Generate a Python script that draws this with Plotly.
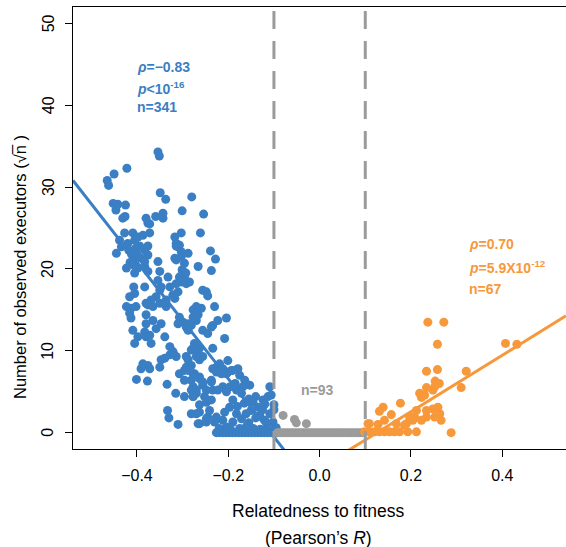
import plotly.graph_objects as go

# ---------------- data ----------------
blue_x = [-0.354,-0.351,-0.422,-0.450,-0.465,-0.462,-0.349,-0.337,-0.280,
          -0.452,-0.442,-0.425,-0.446,-0.301,-0.431,-0.426,-0.380,-0.376,
          -0.359,-0.343,-0.343,-0.372,-0.303,-0.317,-0.254,-0.261,
          -0.427,-0.409,-0.398,-0.387,-0.372,-0.438,-0.434,-0.420,-0.405,-0.394,-0.376,
          -0.418,-0.412,-0.406,-0.415,-0.408,-0.400,-0.403,-0.445,
          -0.314,-0.307,-0.303,-0.288,-0.317,-0.383,-0.376,-0.391,-0.383,-0.354,
          -0.423,-0.405,-0.398,-0.383,-0.376,-0.350,-0.332,-0.354,
          -0.300,-0.307,-0.296,-0.303,-0.292,-0.314,-0.407,-0.383,-0.347,
          -0.239,-0.228,-0.237,-0.266,-0.285,-0.256,-0.248,-0.245,
          -0.314,-0.310,-0.314,-0.303,-0.296,-0.301,-0.293,
          -0.328,-0.321,-0.310,-0.317,-0.350,-0.358,-0.350,-0.336,
          -0.416,-0.405,-0.423,-0.413,-0.402,-0.416,-0.413,
          -0.380,-0.369,-0.365,-0.376,-0.336,-0.321,
          -0.380,-0.380,-0.365,-0.347,-0.358,
          -0.409,-0.398,-0.405,-0.383,-0.380,-0.372,-0.369,-0.339,-0.288,
          -0.328,-0.314,-0.339,-0.347,-0.387,-0.376,-0.391,-0.372,-0.350,
          -0.307,-0.296,-0.401,-0.377,-0.334,-0.315,-0.296,
          -0.333,-0.330,-0.310,-0.281,-0.277,-0.281,
          -0.270,-0.259,-0.277,-0.266,-0.230,-0.223,-0.234,-0.204,
          -0.256,-0.245,-0.237,-0.208,-0.274,-0.281,-0.266,-0.263,-0.234,-0.256,
          -0.234,-0.226,-0.215,-0.201,-0.193,-0.179,-0.175,
          -0.277,-0.281,-0.263,-0.256,-0.237,
          -0.164,-0.153,-0.168,-0.182,-0.171,-0.212,-0.204,-0.223,-0.234,
          -0.270,-0.277,-0.252,-0.237,-0.263,-0.109,-0.113,-0.124,-0.106,
          -0.266,-0.245,-0.248,
          -0.146,-0.150,-0.135,-0.161,-0.131,-0.109,-0.120,-0.102,
          -0.190,-0.197,-0.208,-0.182,-0.171,-0.190,-0.212,-0.226,-0.230,-0.204,
          -0.248,-0.241,-0.263,-0.248,-0.263,-0.270,
          -0.321,-0.292,-0.288,-0.270,-0.277,-0.263,
          -0.292,-0.281,-0.274,-0.288,-0.296,-0.263,-0.256,-0.277,-0.270,-0.248,-0.237,
          -0.226,-0.219,-0.212,-0.204,-0.190,-0.201,
          -0.270,-0.277,-0.270,-0.281,-0.288,-0.307,-0.299,-0.292,-0.310,
          -0.328,-0.321,
          -0.180,-0.165,-0.155,-0.140,-0.125,-0.115,-0.100,-0.095,-0.160,-0.145,
          -0.130,-0.175,-0.195,-0.220,-0.110,-0.120,-0.140,-0.155,-0.185,-0.196,-0.100,
          -0.226,-0.219,-0.212,-0.205,-0.198,-0.191,-0.184,-0.177,-0.170,-0.163,
          -0.156,-0.149,-0.142,-0.135,-0.128,-0.121,-0.114,-0.107,-0.100,-0.094]
blue_y = [34.3,33.8,32.3,31.6,30.8,30.2,29.3,28.5,28.8,
          28.0,27.9,27.8,27.2,27.1,26.2,26.4,26.2,25.6,
          26.4,26.8,26.2,25.5,24.4,23.9,26.7,24.4,
          24.4,24.4,23.9,24.1,24.4,23.5,22.7,23.1,23.5,22.8,22.8,
          22.3,21.8,21.3,20.8,20.5,21.9,22.5,21.9,
          22.8,22.9,22.1,21.9,21.3,22.3,21.7,21.3,20.9,20.9,
          20.1,19.5,20.1,20.3,19.7,19.7,19.0,18.6,
          19.7,19.0,19.0,18.4,18.2,18.2,17.8,17.8,17.8,
          22.2,21.2,19.8,20.3,18.4,17.4,17.2,16.7,
          23.1,22.7,21.1,21.5,20.7,19.9,19.5,
          17.8,16.8,17.2,16.4,17.4,16.6,15.8,15.4,
          16.6,17.0,15.4,15.2,15.4,14.6,14.0,
          15.8,16.2,15.4,15.6,16.2,16.8,
          14.4,13.3,13.7,13.3,12.7,
          12.5,11.7,10.9,12.3,11.7,11.9,10.9,11.7,13.3,
          9.5,9.3,9.1,8.9,8.4,8.2,7.8,7.8,8.0,
          7.2,7.6,6.5,6.3,5.9,4.8,4.4,
          2.7,1.8,1.0,5.2,4.4,2.3,
          15.4,15.2,15.0,14.4,15.4,13.7,13.1,14.0,
          12.5,12.1,12.9,11.5,10.9,10.1,9.5,8.9,10.3,9.3,
          7.8,7.4,7.2,7.4,7.6,7.8,7.0,
          7.2,6.4,6.6,5.8,6.4,
          6.4,5.8,5.6,5.2,4.8,5.6,5.0,5.2,5.2,
          4.8,4.4,4.4,4.0,3.4,5.6,4.4,4.0,4.6,
          1.1,1.9,1.3,
          3.7,2.7,3.1,2.3,2.1,2.3,1.5,1.3,
          4.0,3.1,2.5,2.3,1.7,1.3,1.5,1.9,1.3,0.7,
          3.7,2.7,2.5,1.7,1.1,2.3,
          9.7,9.3,8.9,9.3,10.3,10.3,
          8.0,8.2,7.2,7.6,6.4,6.8,6.2,5.6,5.2,5.2,6.2,
          8.0,8.4,7.8,7.2,7.6,8.8,
          14.6,14.1,13.7,13.1,12.5,14.1,13.5,12.9,13.3,
          10.5,9.9,
          3.2,3.6,1.2,1.8,2.8,0.8,2.8,0.6,0.8,0.5,
          0.4,0.5,0.4,0.5,0.3,3.5,4.4,4.1,6.0,5.6,3.4,
          0,0,0,0,0,0,0,0,0,0,
          0,0,0,0,0,0,0,0,0,0]

gray_x = [-0.080,-0.055,-0.051,-0.029,
          -0.092,-0.086,-0.080,-0.074,-0.068,-0.062,-0.056,-0.050,-0.044,-0.038,
          -0.032,-0.026,-0.020,-0.014,-0.008,-0.002,0.004,0.010,0.016,0.022,
          0.028,0.034,0.040,0.046,0.052,0.058,0.064,0.070,0.076,0.082,0.088,0.094]
gray_y = [2.1,1.6,1.2,1.1] + [0]*32

orange_x = [0.237,0.272,0.258,0.407,0.432,0.234,0.258,0.321,0.310,
            0.253,0.262,0.252,0.248,0.234,0.219,0.223,0.230,0.177,
            0.139,0.131,0.157,0.142,
            0.212,0.234,0.248,0.259,0.263,0.252,0.234,0.223,0.208,0.204,0.197,0.190,0.186,0.266,
            0.109,0.128,0.168,0.106,
            0.0985,0.109,0.120,0.131,0.142,0.153,0.164,0.175,0.193,0.212,0.288]
orange_y = [13.5,13.5,10.8,10.9,10.8,7.5,7.7,7.5,5.5,
            6.3,6.0,5.6,5.2,5.5,4.8,4.3,4.6,3.6,
            3.1,2.6,2.2,1.5,
            2.7,2.7,2.9,3.1,2.3,1.9,1.9,1.5,1.9,1.5,1.9,1.1,0.9,1.5,
            1.1,1.0,1.1,1.1,
            0.1,0.1,0.1,0.1,0.1,0.1,0.1,0.1,0.1,0.1,0.0]

# fitted lines (intercept, slope)
blue_fit = (-7.65, -71.2)
orange_fit = (-4.34, 34.5)
x_range = [-0.54, 0.5395]
y_range = [-2, 52]
cut_lines = [-0.1, 0.1]

x_ticks = [-0.4, -0.2, 0.0, 0.2, 0.4]
x_ticktext = ["\u22120.4", "\u22120.2", "0.0", "0.2", "0.4"]
y_ticks = [0, 10, 20, 30, 40, 50]

BLUE = "#3A7FC4"
ORANGE = "#F7983A"
GRAY = "#9B9B9B"
FONT = "Liberation Sans, Arial, sans-serif"

fig = go.Figure()
mk = dict(size=9, line=dict(width=0))
fig.add_trace(go.Scatter(x=blue_x, y=blue_y, mode="markers",
                         marker=dict(color=BLUE, **mk), showlegend=False))
fig.add_trace(go.Scatter(x=gray_x, y=gray_y, mode="markers",
                         marker=dict(color=GRAY, **mk), showlegend=False))
fig.add_trace(go.Scatter(x=orange_x, y=orange_y, mode="markers",
                         marker=dict(color=ORANGE, **mk), showlegend=False))

# fit lines across the whole x range (clipped by axes)
for (b, m), c in [(blue_fit, BLUE), (orange_fit, ORANGE)]:
    xs = [x_range[0], x_range[1]]
    fig.add_trace(go.Scatter(x=xs, y=[b + m * v for v in xs], mode="lines",
                             line=dict(color=c, width=3), showlegend=False,
                             cliponaxis=True))

for xv in cut_lines:
    fig.add_shape(type="line", x0=xv, x1=xv, y0=y_range[0], y1=y_range[1],
                  xref="x", yref="y",
                  line=dict(color=GRAY, width=3, dash="18px,12px"))

ann_font_b = dict(family=FONT, size=14, color=BLUE)
ann_font_o = dict(family=FONT, size=14, color=ORANGE)
for txt, yv in [("<b><i>\u03c1</i>=\u22120.83</b>", 67),
                ("<b><i>p</i>&lt;10<sup>-16</sup></b>", 87.5),
                ("<b>n=341</b>", 107)]:
    fig.add_annotation(text=txt, xref="paper", yref="paper",
                       x=(135 - 73) / 493, y=1 - (yv - 7) / 442,
                       xanchor="left", yanchor="middle", showarrow=False,
                       font=ann_font_b)
for txt, yv in [("<b><i>\u03c1</i>=0.70</b>", 244),
                ("<b><i>p</i>=5.9X10<sup>-12</sup></b>", 267),
                ("<b>n=67</b>", 289)]:
    fig.add_annotation(text=txt, xref="paper", yref="paper",
                       x=(467 - 73) / 493, y=1 - (yv - 7) / 442,
                       xanchor="left", yanchor="middle", showarrow=False,
                       font=ann_font_o)
fig.add_annotation(text="<b>n=93</b>", xref="paper", yref="paper",
                   x=(317 - 73) / 493, y=1 - (390 - 7) / 442,
                   xanchor="center", yanchor="middle", showarrow=False,
                   font=dict(family=FONT, size=14, color=GRAY))

# y tick labels (rotated, R style)
for t in y_ticks:
    fig.add_annotation(text=str(t), xref="paper", yref="y",
                       x=(48 - 73) / 493, y=t,
                       xanchor="center", yanchor="middle", showarrow=False,
                       textangle=-90,
                       font=dict(family=FONT, size=16, color="black"))

# axis titles
fig.add_annotation(text="Relatedness to fitness", xref="paper", yref="paper",
                   x=(318 - 73) / 493, y=1 - (511 - 7) / 442,
                   xanchor="center", yanchor="middle", showarrow=False,
                   font=dict(family=FONT, size=17.5, color="black"))
fig.add_annotation(text="(Pearson\u2019s <i>R</i>)", xref="paper", yref="paper",
                   x=(318 - 73) / 493, y=1 - (538 - 7) / 442,
                   xanchor="center", yanchor="middle", showarrow=False,
                   font=dict(family=FONT, size=17.5, color="black"))
fig.add_annotation(text="Number of observed executors (\u221an\u0305 )",
                   xref="paper", yref="paper",
                   x=(20 - 73) / 493, y=1 - (267 - 7) / 442,
                   xanchor="center", yanchor="middle", showarrow=False,
                   textangle=-90,
                   font=dict(family=FONT, size=16.5, color="black"))

fig.update_layout(
    width=566, height=547,
    margin=dict(l=73, r=0, t=7, b=98, pad=0),
    paper_bgcolor="white", plot_bgcolor="white",
    font=dict(family=FONT, size=16, color="black"),
    xaxis=dict(range=x_range, showgrid=False, zeroline=False,
               showline=True, linecolor="black", linewidth=1.3, mirror=True,
               ticks="outside", ticklen=7, tickwidth=1.3, tickcolor="black",
               tickvals=x_ticks, ticktext=x_ticktext, ticklabelstandoff=5,
               tickfont=dict(family=FONT, size=16)),
    yaxis=dict(range=y_range, showgrid=False, zeroline=False,
               showline=True, linecolor="black", linewidth=1.3,
               ticks="outside", ticklen=7, tickwidth=1.3, tickcolor="black",
               tickvals=y_ticks, showticklabels=False),
)

fig.write_html("out.html")
